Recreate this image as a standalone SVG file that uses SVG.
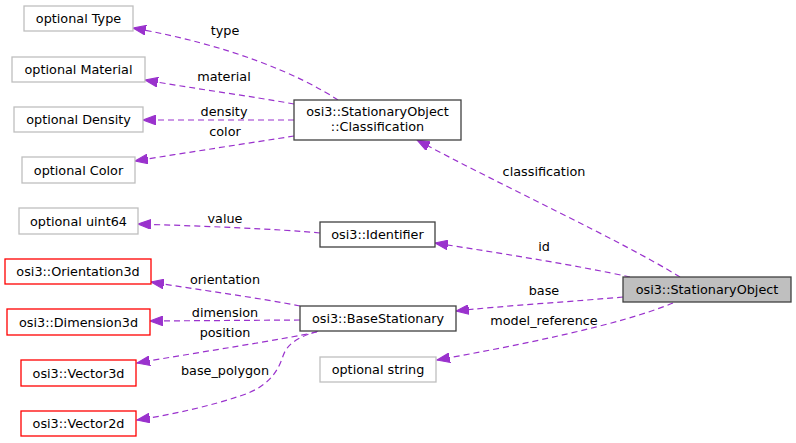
<svg xmlns="http://www.w3.org/2000/svg" width="796" height="443" viewBox="0 0 796 443">
<style>
text{font-family:"DejaVu Sans","Liberation Sans",sans-serif;font-size:12.8px;fill:#000;text-anchor:middle}
.g{fill:#fff;stroke:#bfbfbf;stroke-width:1.3}
.r{fill:#fff;stroke:#ff0000;stroke-width:1.3}
.k{fill:#fff;stroke:#404040;stroke-width:1.3}
.m{fill:#bfbfbf;stroke:#404040;stroke-width:1.3}
.e{fill:none;stroke:#9a32cd;stroke-width:1.2;stroke-dasharray:6,4;marker-end:url(#ah)}
</style>
<defs>
<marker id="ah" markerUnits="userSpaceOnUse" markerWidth="14" markerHeight="10" refX="12" refY="4.5" orient="auto" viewBox="0 0 13 9">
<polygon points="0,0 12,4.5 0,9" fill="#9a32cd" stroke="#9a32cd"/>
</marker>
</defs>
<rect width="796" height="443" fill="#fff"/>
<g id="edges">
<path class="e" d="M 338,100 C 300,75 230,45 133,28"/>
<path class="e" d="M 294,104 C 250,96 190,88 145,80"/>
<path class="e" d="M 294,120 L 143,120"/>
<path class="e" d="M 294,136 C 250,143 190,152 135,161"/>
<path class="e" d="M 320,233 C 280,229 200,226 138,224"/>
<path class="e" d="M 300,306 C 260,298 200,290 151,282"/>
<path class="e" d="M 300,320 L 150,321"/>
<path class="e" d="M 317,332 C 280,340 200,352 137,363"/>
<path class="e" d="M 318,331 C 295,338 287,345 283,356 C 277,375 265,388 240,396 C 210,406 175,414 137,420"/>
<path class="e" d="M 680,277 C 620,240 500,185 417,140"/>
<path class="e" d="M 630,277 C 580,266 500,253 435,243"/>
<path class="e" d="M 623,297 C 580,301 500,306 456,311"/>
<path class="e" d="M 673,303 C 620,325 520,345 437,360"/>
<text x="225" y="35">type</text>
<text x="224" y="81">material</text>
<text x="224" y="116">density</text>
<text x="225" y="136">color</text>
<text x="225" y="223">value</text>
<text x="225" y="284">orientation</text>
<text x="225" y="317">dimension</text>
<text x="225" y="337">position</text>
<text x="225" y="375">base_polygon</text>
<text x="544" y="176">classification</text>
<text x="544" y="251">id</text>
<text x="544" y="295">base</text>
<text x="544" y="325">model_reference</text>
</g>
<g id="n_type"><rect class="g" x="24" y="6" width="109" height="25"/><text x="78.5" y="23">optional Type</text></g>
<g id="n_material"><rect class="g" x="12" y="57" width="133" height="25"/><text x="78.5" y="74">optional Material</text></g>
<g id="n_density"><rect class="g" x="14" y="107" width="129" height="25"/><text x="78.5" y="124">optional Density</text></g>
<g id="n_color"><rect class="g" x="22" y="157" width="113" height="26"/><text x="78.5" y="175">optional Color</text></g>
<g id="n_classification"><rect class="k" x="294" y="100" width="167" height="40"/><text x="377.5" y="116">osi3::StationaryObject</text><text x="377.5" y="130.5">::Classification</text></g>
<g id="n_uint64"><rect class="g" x="19" y="208" width="119" height="26"/><text x="78.5" y="226">optional uint64</text></g>
<g id="n_identifier"><rect class="k" x="320" y="222" width="115" height="25"/><text x="377.5" y="239">osi3::Identifier</text></g>
<g id="n_orientation"><rect class="r" x="5" y="259" width="146" height="25"/><text x="78" y="276">osi3::Orientation3d</text></g>
<g id="n_dimension"><rect class="r" x="7" y="309" width="143" height="26"/><text x="78.5" y="327">osi3::Dimension3d</text></g>
<g id="n_vector3d"><rect class="r" x="21" y="360" width="115" height="26"/><text x="78.5" y="378">osi3::Vector3d</text></g>
<g id="n_vector2d"><rect class="r" x="21" y="411" width="115" height="25"/><text x="78.5" y="428">osi3::Vector2d</text></g>
<g id="n_base"><rect class="k" x="300" y="306" width="156" height="25"/><text x="378" y="323">osi3::BaseStationary</text></g>
<g id="n_string"><rect class="g" x="320" y="357" width="116" height="25"/><text x="378" y="374">optional string</text></g>
<g id="n_stationary"><rect class="m" x="623" y="277" width="168" height="25"/><text x="707" y="294">osi3::StationaryObject</text></g>
</svg>
